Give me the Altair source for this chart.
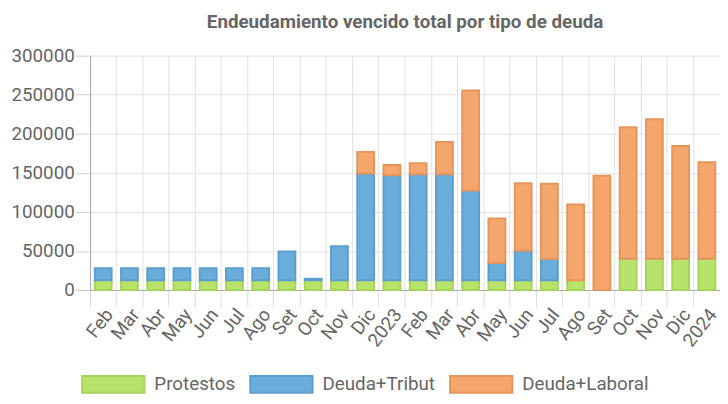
import altair as alt
import pandas as pd

categorias = ["Feb", "Mar", "Abr", "May", "Jun", "Jul", "Ago", "Set", "Oct", "Nov", "Dic", "2023",
              "Feb", "Mar", "Abr", "May", "Jun", "Jul", "Ago", "Set", "Oct", "Nov", "Dic", "2024"]
protestos = [12500, 12500, 12500, 12500, 12500, 12500, 12500, 12500, 12500, 12500, 12500, 12500,
             12500, 12500, 12500, 12500, 12500, 12500, 12500, 0, 40000, 40000, 40000, 40000]
deuda_tribut = [15300, 15300, 15300, 15300, 15300, 15300, 15300, 36900, 1800, 43600, 136500, 134300,
                135600, 135600, 114900, 22100, 37700, 27200, 0, 0, 0, 0, 0, 0]
deuda_laboral = [0, 0, 0, 0, 0, 0, 0, 0, 0, 0, 27800, 13100,
                 14300, 41400, 127900, 57000, 86500, 96200, 97000, 146400, 168300, 178500, 144300, 123600]
series = ["Protestos", "Deuda+Tribut", "Deuda+Laboral"]
fill_colors = ["#b8e36b", "#6badda", "#f5a66c"]
stroke_colors = ["#a6d35a", "#5c9ecf", "#e6955c"]
y_ticks = [0, 50000, 100000, 150000, 200000, 250000, 300000]

rows = []
for i in range(len(categorias)):
    for k, (s, vals) in enumerate(zip(series, [protestos, deuda_tribut, deuda_laboral])):
        if vals[i] > 0:
            rows.append({"idx": i, "serie": s, "orden": k, "valor": vals[i]})
df = pd.DataFrame(rows)

label_expr = "[" + ",".join("'" + c + "'" for c in categorias) + "][datum.value]"

W = 637
H = 237
band = W / len(categorias)
FONT = "Roboto"
GREY = "#666666"

legend_kw = dict(
    orient="none", legendX=-9, legendY=323, direction="horizontal", title=None,
    symbolType="M-1,-1H6.41V1H-1Z", symbolSize=289, symbolStrokeWidth=2,
    labelFontSize=19, labelColor=GREY, labelFont=FONT, columnPadding=11, labelOffset=55,
    symbolOpacity=1,
)

chart = alt.Chart(df).mark_bar(size=17, strokeWidth=2, opacity=1).encode(
    x=alt.X("idx:O", sort=None,
            scale=alt.Scale(paddingInner=0, paddingOuter=0, domain=list(range(len(categorias)))),
            axis=alt.Axis(title=None, bandPosition=0, labelOffset=band / 2 - 7, labelAngle=-52,
                          labelAlign="right", labelBaseline="middle", labelExpr=label_expr,
                          tickSize=17, labelPadding=4, labelFontSize=19, labelColor=GREY,
                          labelFont=FONT, grid=True, gridColor="#e2e2e2", tickColor="#dddddd",
                          domainColor="#aaaaaa", labelOverlap=False)),
    y=alt.Y("valor:Q", stack="zero",
            scale=alt.Scale(domain=[0, 300000], nice=False),
            axis=alt.Axis(title=None, values=y_ticks, format="d", labelFontSize=19,
                          labelColor=GREY, labelFont=FONT, tickSize=15, labelPadding=1,
                          gridColor="#e2e2e2", tickColor="#cccccc", domainColor="#aaaaaa")),
    fill=alt.Fill("serie:N", scale=alt.Scale(domain=series, range=fill_colors),
                  legend=alt.Legend(**legend_kw)),
    stroke=alt.Stroke("serie:N", scale=alt.Scale(domain=series, range=stroke_colors),
                      legend=alt.Legend(**legend_kw)),
    order=alt.Order("orden:Q", sort="ascending"),
).properties(
    width=W, height=H,
    autosize=alt.AutoSizeParams(type="none"),
    padding={"left": 83, "top": 46, "right": 0, "bottom": 104},
    title=alt.TitleParams("Endeudamiento vencido total por tipo de deuda", fontSize=19,
                          fontWeight="bold", color=GREY, font=FONT, anchor="middle", offset=15),
).configure_view(stroke=None)

chart.save("out.html", embed_options={"renderer": "svg", "actions": False})
